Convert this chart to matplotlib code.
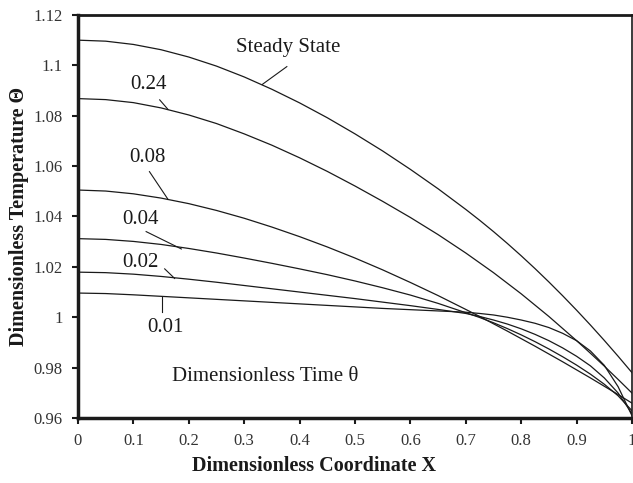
import matplotlib
matplotlib.use("Agg")
import matplotlib.pyplot as plt

plt.rcParams['font.family'] = ['Liberation Serif', 'DejaVu Serif']

# dimensionless coordinate (finer near the cooled end)
X = [0.0, 0.05, 0.1, 0.15, 0.2, 0.25, 0.3, 0.35, 0.4, 0.45, 0.5,
     0.55, 0.6, 0.65, 0.7, 0.725, 0.75, 0.775, 0.8, 0.825, 0.85,
     0.875, 0.9, 0.925, 0.95, 0.975, 1.0]

# temperature profiles, one per dimensionless time
theta_001 = [1.0096, 1.0094, 1.0089, 1.0083, 1.0077, 1.0071, 1.0065, 1.0059, 1.0053, 1.0047, 1.0041,
             1.0035, 1.0030, 1.0025, 1.0020, 1.0015, 1.0009, 1.0000, 0.9989, 0.9976, 0.9959,
             0.9936, 0.9907, 0.9866, 0.9809, 0.9724, 0.9609]
theta_002 = [1.0179, 1.0177, 1.0171, 1.0162, 1.0151, 1.0139, 1.0126, 1.0113, 1.0100, 1.0087, 1.0074,
             1.0060, 1.0046, 1.0031, 1.0015, 1.0003, 0.9989, 0.9973, 0.9954, 0.9932, 0.9907,
             0.9878, 0.9845, 0.9807, 0.9759, 0.9699, 0.9617]
theta_004 = [1.0312, 1.0309, 1.0301, 1.0289, 1.0273, 1.0255, 1.0235, 1.0214, 1.0192, 1.0169, 1.0144,
             1.0117, 1.0088, 1.0055, 1.0018, 0.9999, 0.9978, 0.9955, 0.9930, 0.9903, 0.9874,
             0.9843, 0.9810, 0.9774, 0.9734, 0.9688, 0.9629]
theta_008 = [1.0505, 1.0501, 1.0490, 1.0473, 1.0451, 1.0424, 1.0393, 1.0358, 1.0320, 1.0279, 1.0235,
             1.0188, 1.0138, 1.0086, 1.0031, 1.0003, 0.9974, 0.9945, 0.9915, 0.9885, 0.9854,
             0.9823, 0.9791, 0.9759, 0.9726, 0.9693, 0.9659]
theta_024 = [1.0868, 1.0864, 1.0852, 1.0831, 1.0803, 1.0769, 1.0728, 1.0683, 1.0633, 1.0579, 1.0521,
             1.0460, 1.0396, 1.0328, 1.0255, 1.0216, 1.0177, 1.0135, 1.0093, 1.0048, 1.0003,
             0.9955, 0.9907, 0.9857, 0.9806, 0.9753, 0.9699]
theta_ss = [1.1100, 1.1096, 1.1083, 1.1062, 1.1033, 1.0997, 1.0954, 1.0905, 1.0851, 1.0792, 1.0728,
            1.0660, 1.0587, 1.0510, 1.0428, 1.0385, 1.0340, 1.0293, 1.0244, 1.0193, 1.0140,
            1.0085, 1.0028, 0.9969, 0.9908, 0.9845, 0.9780]

series = [theta_001, theta_002, theta_004, theta_008, theta_024, theta_ss]

# label text, text position, leader line (from, to)
labels = ['0.01', '0.02', '0.04', '0.08', '0.24', 'Steady State']
label_pos = [(0.158, 0.9960), (0.113, 1.0217), (0.113, 1.0389), (0.125, 1.0635), (0.128, 1.0922), (0.379, 1.1069)]
leader_from = [(0.151, 1.0022), (0.1565, 1.0192), (0.123, 1.0340), (0.129, 1.0578), (0.1475, 1.0863), (0.377, 1.0995)]
leader_to = [(0.151, 1.0080), (0.1745, 1.0154), (0.1866, 1.0271), (0.1625, 1.0468), (0.1625, 1.0825), (0.3325, 1.0924)]

ink = '#1a1a1a'

fig = plt.figure(figsize=(6.33, 4.83), dpi=100)
ax = fig.add_axes([0.1232, 0.1346, 0.8752, 0.8344])

for y in series:
    ax.plot(X, y, color=ink, lw=0.9)

for txt, pos, p0, p1 in zip(labels, label_pos, leader_from, leader_to):
    ax.text(pos[0], pos[1], txt, fontsize=15, ha='center', va='center', color=ink)
    ax.plot([p0[0], p1[0]], [p0[1], p1[1]], color=ink, lw=0.8)

ax.text(0.3375, 0.9764, 'Dimensionless Time θ', fontsize=15, ha='center', va='center', color=ink)

ax.set_xlim(0, 1)
ax.set_ylim(0.96, 1.12)
ax.set_xticks([0, 0.1, 0.2, 0.3, 0.4, 0.5, 0.6, 0.7, 0.8, 0.9, 1.0])
ax.set_xticklabels(['0', '0.1', '0.2', '0.3', '0.4', '0.5', '0.6', '0.7', '0.8', '0.9', '1'])
ax.set_yticks([0.96, 0.98, 1.0, 1.02, 1.04, 1.06, 1.08, 1.1, 1.12])
ax.set_yticklabels(['0.96', '0.98', '1', '1.02', '1.04', '1.06', '1.08', '1.1', '1.12'])
ax.tick_params(labelsize=12, length=4, width=1.5, colors=ink, labelcolor='#333333', pad=7)

ax.spines['left'].set_linewidth(2.5)
ax.spines['bottom'].set_linewidth(2.5)
ax.spines['top'].set_linewidth(2.0)
ax.spines['right'].set_linewidth(1.2)
for s in ax.spines.values():
    s.set_color(ink)

fig.text(0.496, 0.035, 'Dimensionless Coordinate X', fontsize=14.5, fontweight='bold',
         ha='center', va='center', color=ink)
fig.text(0.030, 0.551, 'Dimensionless Temperature Θ', fontsize=14.5, fontweight='bold',
         ha='center', va='center', rotation=90, color=ink)

fig.savefig('out.png', dpi=100)
